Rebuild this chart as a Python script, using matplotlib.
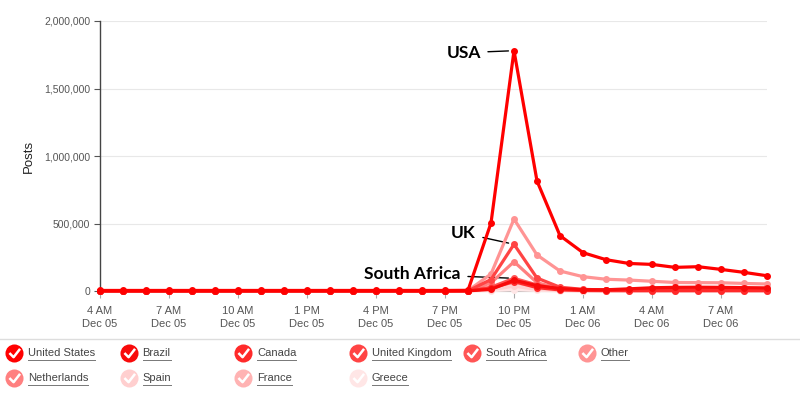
import numpy as np
import matplotlib.pyplot as plt
from matplotlib.path import Path

# hourly posts, 4 AM Dec 05 .. 9 AM Dec 06
hours = list(range(30))
tick_idx = [0, 3, 6, 9, 12, 15, 18, 21, 24, 27]
tick_labels = ['4 AM\nDec 05', '7 AM\nDec 05', '10 AM\nDec 05', '1 PM\nDec 05', '4 PM\nDec 05',
               '7 PM\nDec 05', '10 PM\nDec 05', '1 AM\nDec 06', '4 AM\nDec 06', '7 AM\nDec 06']

countries = ['United States', 'Brazil', 'Canada', 'United Kingdom', 'South Africa',
             'Other', 'Netherlands', 'Spain', 'France', 'Greece']
colors = ['#ff0000', '#f80a0a', '#ff2a2a', '#ff4444', '#ff5555',
          '#ff9494', '#ff8080', '#ffcfcf', '#ffb3b3', '#ffe6e6']

usa = [4000, 4000, 4000, 4000, 4000, 4000, 4000, 4000, 4000, 4000, 4000, 4000, 4000, 4000, 4000, 4000,
       5000, 504000, 1780000, 815000, 410000, 284000, 232000, 204000, 197000, 175000, 180000, 160000,
       138000, 113000]
brazil = [1000] * 16 + [1500, 12000, 80000, 40000, 18000, 10000, 9000, 16000, 24000, 27000, 28000,
                        27000, 25000, 23000]
canada = [500] * 16 + [1000, 20000, 70000, 25000, 8000, 4000, 3000, 3000, 3000, 3000, 3000, 3000,
                       3000, 3000]
uk = [500] * 16 + [1000, 85000, 346000, 96000, 28000, 12000, 8000, 7000, 8000, 9000, 10000, 10000,
                   10000, 10000]
south_africa = [300] * 16 + [800, 28000, 94000, 45000, 15000, 8000, 5000, 4000, 4000, 4000, 4000,
                             4000, 4000, 4000]
other = [1500] * 16 + [2500, 126000, 533000, 267000, 148000, 106000, 87000, 81000, 72000, 63000,
                       62000, 61000, 56000, 52000]
netherlands = [300] * 16 + [800, 60000, 217000, 62000, 16000, 8000, 5000, 4000, 4000, 4000, 4000,
                            4000, 4000, 4000]
spain = [200] * 16 + [500, 10000, 35000, 12000, 4000, 2000, 1500, 1500, 2000, 2000, 2000, 2000,
                      2000, 2000]
france = [200] * 16 + [500, 20000, 62000, 22000, 6000, 3000, 2000, 2000, 2000, 2000, 2000, 2000,
                       2000, 2000]
greece = [100] * 16 + [300, 3000, 10000, 4000, 1000, 500, 400, 400, 400, 400, 400, 400, 400, 400]

series = [usa, brazil, canada, uk, south_africa, other, netherlands, spain, france, greece]

fig = plt.figure(figsize=(8, 3.95), dpi=100)
ax = fig.add_axes([100 / 800, 1 - 291 / 395, 667 / 800, 270 / 395])

for i in reversed(range(len(series))):
    ax.plot(hours, series[i], color=colors[i], linewidth=2.3, marker='o', markersize=4,
            zorder=3 + (len(series) - i) * 0.1, clip_on=False)

ax.set_xlim(0, 29)
ax.set_ylim(0, 2000000)
ax.set_yticks([0, 500000, 1000000, 1500000, 2000000])
ax.set_yticklabels(['0', '500,000', '1,000,000', '1,500,000', '2,000,000'])
ax.set_xticks(tick_idx)
ax.set_xticklabels(tick_labels, linespacing=1.35)
ax.tick_params(axis='x', length=5, width=0.8, colors='#aaaaaa', labelcolor='#555555',
               labelsize=8, pad=6)
ax.tick_params(axis='y', length=4, width=0.8, colors='#555555', labelcolor='#555555',
               labelsize=7.5, pad=3)
for lab in ax.get_xticklabels() + ax.get_yticklabels():
    lab.set_family('Liberation Sans')
ax.set_ylabel('Posts', fontsize=9.5, family='Liberation Sans', color='#222222', labelpad=7)
ax.grid(True, axis='y', color='#e8e8e8', linewidth=0.8)
ax.set_axisbelow(True)
for s in ['top', 'right']:
    ax.spines[s].set_visible(False)
ax.spines['left'].set_color('#444444')
ax.spines['left'].set_linewidth(1.0)
ax.spines['bottom'].set_color('#aaaaaa')
ax.spines['bottom'].set_linewidth(0.8)

# callouts
ann = dict(fontsize=12.5, fontweight='bold', family='Lato', color='black',
           textcoords='offset pixels', ha='right', va='center',
           arrowprops=dict(arrowstyle='-', color='black', lw=1.0, shrinkA=3, shrinkB=4))
ax.annotate('USA', xy=(18, usa[18]), xytext=(-33, -2), **ann)
ax.annotate('UK', xy=(18, uk[18]), xytext=(-38, 11), **ann)
ax.annotate('South Africa', xy=(18, south_africa[18]), xytext=(-53, 4), **ann)

# legend drawn in pixel space
lg = fig.add_axes([0, 0, 1, 1], zorder=10)
lg.set_xlim(0, 800)
lg.set_ylim(395, 0)
lg.axis('off')
lg.plot([0, 800], [339, 339], color='#dddddd', linewidth=1.0)

check = Path([(-0.55, 0.05), (-0.1, -0.4), (0.6, 0.5)],
             [Path.MOVETO, Path.LINETO, Path.LINETO])
fig.canvas.draw()
r = fig.canvas.get_renderer()
for i, name in enumerate(countries):
    cx = 14 + (i % 6) * 114.5
    cy = 353 if i < 6 else 378
    lg.plot(cx, cy, marker='o', markersize=13, color=colors[i], markeredgewidth=0)
    lg.plot(cx, cy, marker=check, markersize=8, markerfacecolor='none',
            markeredgecolor='white', markeredgewidth=1.8)
    t = lg.text(cx + 14, cy, name, fontsize=8, family='Liberation Sans', color='#444444',
                ha='left', va='center')
    w = t.get_window_extent(renderer=r).width
    lg.plot([cx + 14, cx + 14 + w], [cy + 7, cy + 7], color='#777777', linewidth=0.7)

fig.savefig('out.png', dpi=100)
